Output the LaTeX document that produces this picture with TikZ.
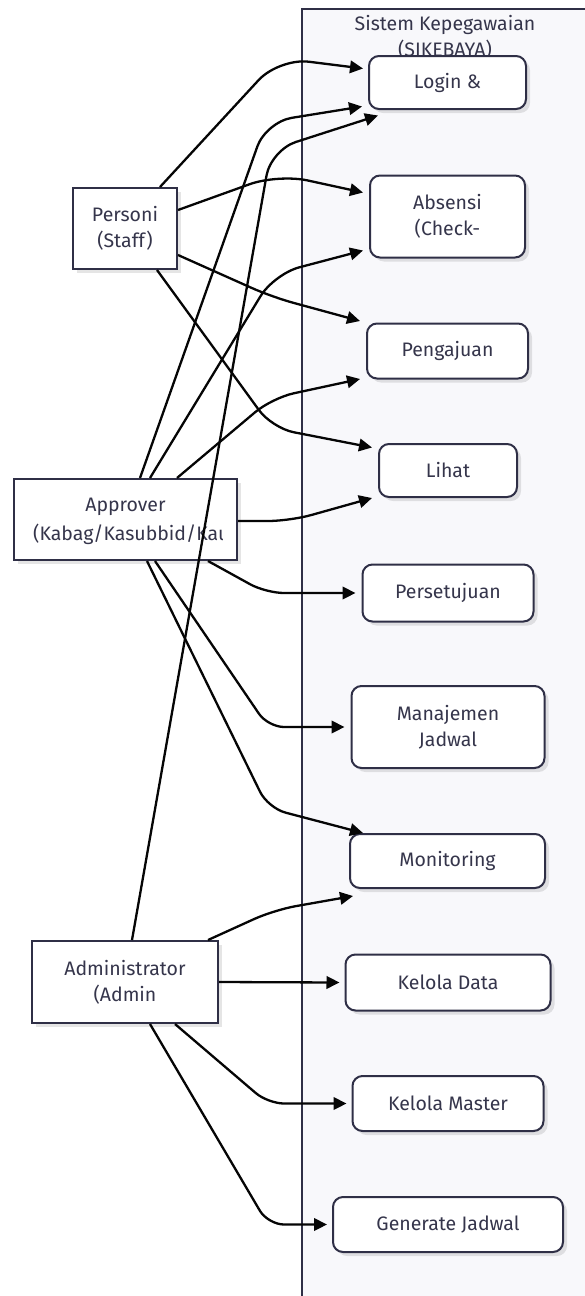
\documentclass[tikz,border=0pt]{standalone}
\usepackage{fontspec}
\setmainfont{Fira Sans}
\usetikzlibrary{arrows.meta,calc,shadows}
\definecolor{inkline}{HTML}{2F2F46}
\definecolor{inktext}{HTML}{35354B}
\definecolor{clusterbg}{HTML}{F8F8FB}
\definecolor{edgeink}{HTML}{050505}
\begin{document}
\begin{tikzpicture}[x=1pt,y=-1pt,
  every node/.style={font=\fontsize{19.5}{26}\selectfont, text=inktext},
  boxshadow/.style={drop shadow={shadow xshift=4pt, shadow yshift=-4pt, opacity=0.10, fill=black}},
  usecase/.style={draw=inkline, line width=2pt, fill=white, rounded corners=10pt,
    align=center, inner sep=0pt, boxshadow},
  actor/.style={draw=inkline, line width=2pt, fill=white, align=center, inner sep=0pt, boxshadow},
  cluster/.style={draw=inkline, line width=2pt, fill=clusterbg, inner sep=0pt},
  link/.style={draw=edgeink, line width=2.3pt, rounded corners=22pt,
    -{Triangle[length=13pt,width=12.5pt]}},
]
% page
\path[use as bounding box] (0,0) rectangle (585,1296);
\fill[white] (0,0) rectangle (585,1296);

% system boundary (runs past the right and bottom edges)
\begin{scope}
  \clip (0,0) rectangle (585,1296);
  \node[cluster, minimum width=320pt, minimum height=1310pt, anchor=north west] (system) at (300.5,8) {};
\end{scope}
\node[align=center] (systemtitle) at (445,37) {Sistem Kepegawaian\\(SIKEBAYA)};

% use cases
\node[usecase, minimum width=157pt, minimum height=53pt] (login) at (447.5,82.5) {Login \&};
\node[usecase, minimum width=155pt, minimum height=82pt] (absensi) at (447.5,216.5) {Absensi\\(Check-};
\node[usecase, minimum width=161pt, minimum height=55pt] (pengajuan) at (447.5,351) {Pengajuan};
\node[usecase, minimum width=138pt, minimum height=53pt] (lihat) at (448,470.5) {Lihat};
\node[usecase, minimum width=171pt, minimum height=57pt] (persetujuan) at (448,593) {Persetujuan};
\node[usecase, minimum width=193pt, minimum height=82pt] (manajemen) at (448,727) {Manajemen\\Jadwal};
\node[usecase, minimum width=195pt, minimum height=54pt] (monitoring) at (447.5,861) {Monitoring};
\node[usecase, minimum width=205pt, minimum height=56pt] (keloladata) at (448,982.5) {Kelola Data};
\node[usecase, minimum width=191pt, minimum height=55pt] (kelolamaster) at (448,1103.5) {Kelola Master};
\node[usecase, minimum width=230pt, minimum height=55pt] (generate) at (448,1224.5) {Generate Jadwal};

% actors
\node[actor, minimum width=104pt, minimum height=81pt] (personi) at (125,228.5) {Personi\\(Staff)};
\node[actor, minimum width=223pt, minimum height=81pt] (approver) at (125.5,519.5) {Approver\\\phantom{(K}};
\begin{scope}
  \clip ($(approver.north west)+(2,0)$) rectangle ($(approver.south east)+(-16,0)$);
  \node[anchor=base west, inner sep=0pt] (approverrole) at ($(approver.center)+(-92.5,21)$) {(Kabag/Kasubbid/Kaur)};
\end{scope}
\node[actor, minimum width=186pt, minimum height=82pt] (admin) at (125,982) {Administrator\\(Admin};

% staff
\draw[link, rounded corners=30pt] ($(personi.north)+(35,0)$) -- (279,58) -- ($(login.west)+(-5,-14)$);
\draw[link, rounded corners=30pt] ($(personi.east)+(0,-18.5)$) -- (278,174) -- ($(absensi.west)+(-6,-24)$);
\draw[link] ($(personi.east)+(0,26.5)$) -- (272,297) -- ($(pengajuan.west)+(-6,-30)$);
\draw[link] ($(personi.south)+(32,0)$) -- (272,428) -- ($(lihat.west)+(-6,-23)$);

% approver
\draw[link, rounded corners=26pt] ($(approver.north)+(14.5,0)$) -- (266,122) -- ($(login.west)+(-6,24)$);
\draw[link, rounded corners=26pt] ($(approver.north)+(24.5,0)$) -- (274,274) -- ($(absensi.west)+(-6,34)$);
\draw[link] ($(approver.north)+(51.5,0)$) -- (272,398) -- ($(pengajuan.west)+(-6,28)$);
\draw[link] ($(approver.east)+(0,1.5)$) -- (290,521) -- ($(lihat.west)+(-6,27.5)$);
\draw[link, rounded corners=18pt] ($(approver.south)+(82.5,0)$) -- (266,593) -- ($(persetujuan.west)+(-6,0)$);
\draw[link, rounded corners=16pt] ($(approver.south)+(29.5,0)$) -- (268,727) -- ($(manajemen.west)+(-6,0)$);
\draw[link, rounded corners=18pt] ($(approver.south)+(21.5,0)$) -- (268,808) -- ($(monitoring.west)+(14,-28)$);

% administrator
\draw[link, rounded corners=26pt] ($(admin.north)+(7,0)$) -- (271,150) -- ($(login.west)+(10,33)$);
\draw[link] ($(admin.north)+(83,0)$) -- (274,910) -- ($(monitoring.west)+(4,35)$);
\draw[link] (admin.east) -- ($(keloladata.west)+(-5,0)$);
\draw[link, rounded corners=16pt] ($(admin.south)+(50,0)$) -- (268,1103.5) -- ($(kelolamaster.west)+(-5,0)$);
\draw[link, rounded corners=16pt] ($(admin.south)+(25,0)$) -- (268,1224.5) -- ($(generate.west)+(-5,0)$);
\end{tikzpicture}
\end{document}
